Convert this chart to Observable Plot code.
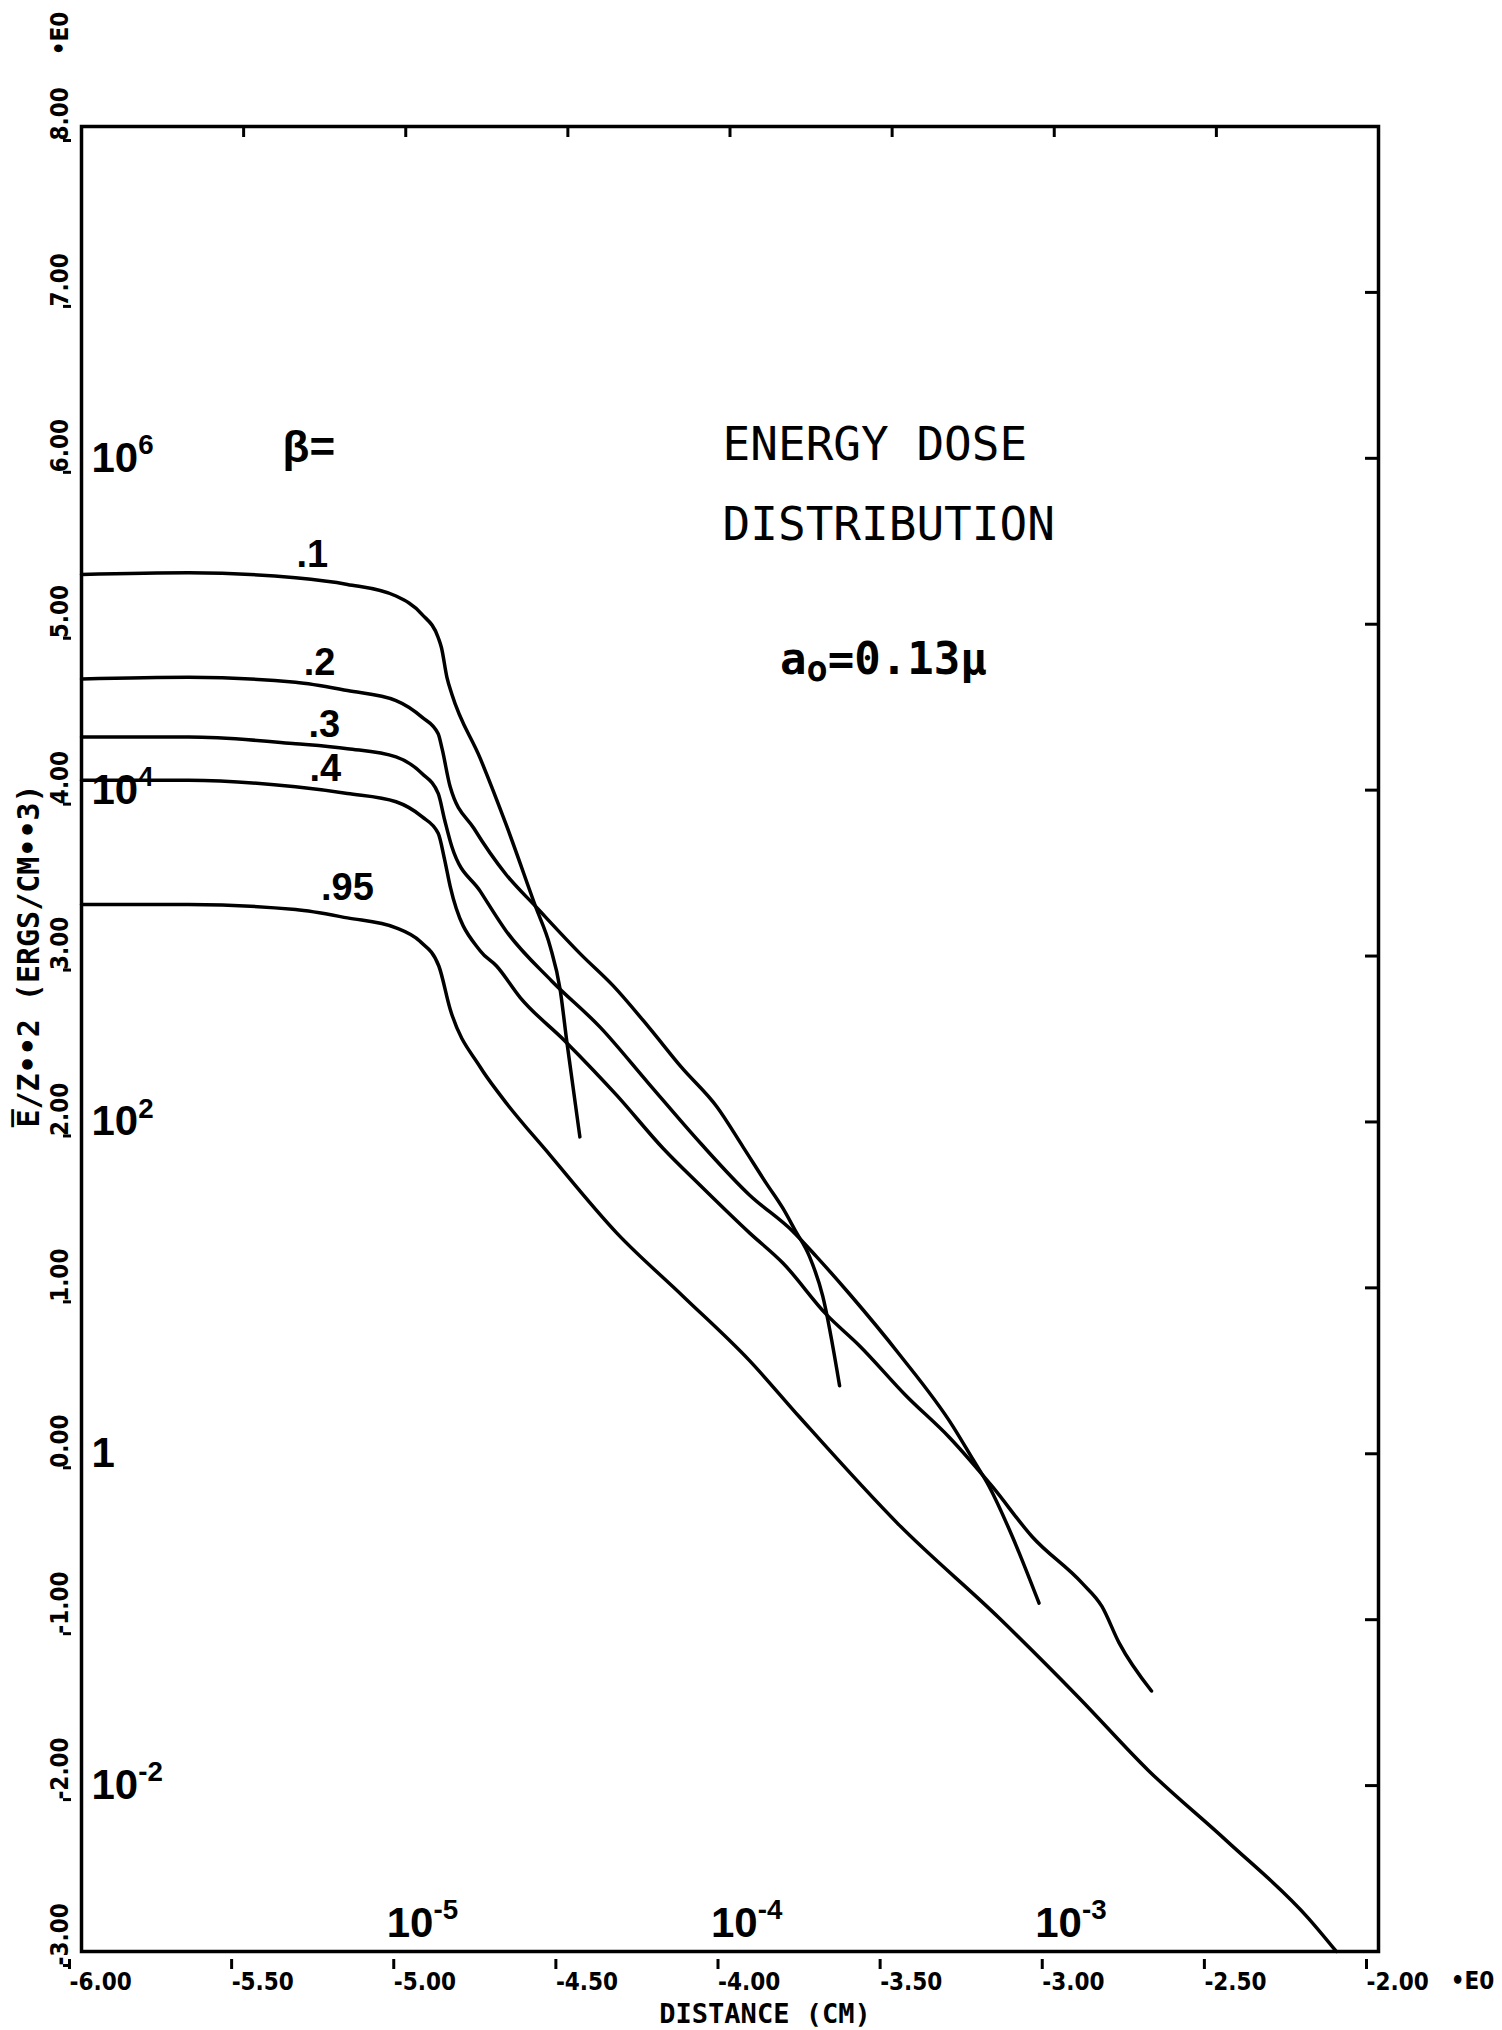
<!DOCTYPE html>
<html>
<head>
<meta charset="utf-8">
<script src="https://cdn.jsdelivr.net/npm/d3@7"></script>
<script src="https://cdn.jsdelivr.net/npm/@observablehq/plot@0.6"></script>
<style>
  html, body { margin: 0; padding: 0; background: #ffffff; }
  #chart svg { display: block; }
</style>
</head>
<body>
<div id="chart"></div>
<script>
// ---------------- data (log10 distance in cm, log10 of E/Z^2 in ergs/cm^3) ----------------
const betaLabels = [".1", ".2", ".3", ".4", ".95"];

const beta01X = [-6.00, -5.67, -5.34, -5.18, -5.03, -4.95, -4.90, -4.89, -4.873, -4.858, -4.77, -4.69, -4.60, -4.555, -4.524, -4.503, -4.463];
const beta01Y = [ 5.30,  5.31,  5.28,  5.24,  5.17,  5.06,  4.92,  4.86,  4.68,   4.58,   4.19,  3.79,  3.30,  3.06,   2.80,   2.48,   1.91];

const beta02X = [-6.00, -5.67, -5.34, -5.18, -5.03, -4.95, -4.90, -4.888, -4.863, -4.79, -4.69, -4.60, -4.46, -4.36, -4.25, -4.15, -4.04, -3.96, -3.888, -3.837, -3.80, -3.755, -3.714, -3.662];
const beta02Y = [ 4.67,  4.68,  4.65,  4.60,  4.54,  4.44,  4.34,  4.25,   4.02,   3.77,  3.49,  3.30,  3.01,  2.82,  2.57,  2.33,  2.09,  1.85,  1.63,   1.48,   1.35,  1.19,   0.95,   0.41];

const beta03X = [-6.00, -5.67, -5.34, -5.18, -5.03, -4.95, -4.90, -4.88, -4.858, -4.77, -4.69, -4.55, -4.40, -4.25, -4.09, -3.94, -3.806, -3.734, -3.63, -3.478, -3.314, -3.252, -3.20, -3.129, -3.047];
const beta03Y = [ 4.32,  4.32,  4.28,  4.25,  4.20,  4.10,  3.98,  3.82,  3.66,   3.39,  3.15,  2.85,  2.57,  2.23,  1.87,  1.56,  1.34,   1.19,   0.96,  0.60,   0.17,  -0.03,  -0.20, -0.50,  -0.90];

const beta04X = [-6.00, -5.67, -5.34, -5.18, -5.03, -4.95, -4.90, -4.88, -4.863, -4.77, -4.72, -4.647, -4.51, -4.349, -4.206, -4.093, -3.939, -3.837, -3.703, -3.60, -3.457, -3.324, -3.19, -3.068, -2.914, -2.853, -2.80, -2.70];
const beta04Y = [ 4.06,  4.06,  4.02,  3.98,  3.93,  3.84,  3.74,  3.58,  3.42,   3.03,  2.94,  2.75,   2.49,  2.16,   1.84,   1.62,   1.33,   1.15,   0.84,   0.65,  0.35,   0.10,  -0.20, -0.50,  -0.78,  -0.92,  -1.14, -1.43];

const beta95X = [-6.00, -5.67, -5.34, -5.18, -5.03, -4.957, -4.898, -4.863, -4.77, -4.708, -4.555, -4.349, -4.145, -3.939, -3.785, -3.478, -3.17, -2.924, -2.709, -2.47, -2.216, -2.13];
const beta95Y = [ 3.31,  3.31,  3.28,  3.23,  3.17,  3.09,   2.94,   2.68,   2.33,  2.16,   1.80,   1.33,   0.95,   0.56,   0.22,  -0.43,  -0.99, -1.47,  -1.91,  -2.33, -2.80,  -3.00];

// axis ticks
const xTicks = [-6.0, -5.5, -5.0, -4.5, -4.0, -3.5, -3.0, -2.5, -2.0];
const yTicks = [-3, -2, -1, 0, 1, 2, 3, 4, 5, 6, 7, 8];

// decade marks written inside the frame
const decadesY = [6, 4, 2, 0, -2];
const decadesX = [-5, -4, -3];

// annotations (text, x, y in data units)
const curveNotes = [
  {text: ".1",  x: -5.288, y: 5.420},
  {text: ".2",  x: -5.266, y: 4.769},
  {text: ".3",  x: -5.251, y: 4.395},
  {text: ".4",  x: -5.248, y: 4.128},
  {text: ".95", x: -5.180, y: 3.413}
];
const betaNote  = [{text: "β=", x: -5.380, y: 6.06}];
const titleNote = [
  {text: "ENERGY DOSE",  x: -4.023, y: 5.987},
  {text: "DISTRIBUTION", x: -4.023, y: 5.505}
];
const radiusNote = [{text: "a_o_=0.13μ", x: -3.527, y: 4.703}];

// ---------------- build ----------------
const seriesX = [beta01X, beta02X, beta03X, beta04X, beta95X];
const seriesY = [beta01Y, beta02Y, beta03Y, beta04Y, beta95Y];
const rows = betaLabels.flatMap((b, k) => seriesX[k].map((x, i) => ({beta: b, x, y: seriesY[k][i]})));

const COND = "'DejaVu Sans Condensed', 'DejaVu Sans', sans-serif";
const MONO = "'DejaVu Sans Mono', 'Liberation Mono', monospace";
const SANS = "'Liberation Sans', Arial, sans-serif";

const fmt2 = d => d.toFixed(2);

const chart = Plot.plot({
  width: 1502,
  height: 2030,
  marginLeft: 81,
  marginRight: 124,
  marginTop: 126,
  marginBottom: 79,
  x: {domain: [-6, -2]},
  y: {domain: [-3, 8]},
  style: {background: "#ffffff", color: "#000000", overflow: "visible"},
  marks: [
    Plot.frame({stroke: "#000", strokeWidth: 3.5}),
    // bottom axis: outward ticks with labels
    Plot.axisX({ticks: xTicks, anchor: "bottom", tickSize: 10, strokeWidth: 3, tickFormat: fmt2,
      textAnchor: "start", dx: -12, dy: 8, fontSize: 24, fontWeight: "bold", fontFamily: COND, label: null, ariaLabel: "xtick"}),
    // top axis: inward ticks only
    Plot.axisX({ticks: xTicks, anchor: "top", tickSize: 10, dy: 10, strokeWidth: 3, fill: "none", label: null}),
    // left axis: outward ticks, rotated labels
    Plot.axisY({ticks: yTicks, anchor: "left", tickSize: 8, strokeWidth: 3, tickRotate: -90, tickFormat: fmt2,
      textAnchor: "start", lineAnchor: "middle", dx: -10, dy: 14, fontSize: 24, fontWeight: "bold", fontFamily: COND, label: null, ariaLabel: "ytick"}),
    // right axis: inward ticks only
    Plot.axisY({ticks: yTicks, anchor: "right", tickSize: 14, dx: -14, strokeWidth: 3, fill: "none", label: null}),

    // curves
    Plot.line(rows, {x: "x", y: "y", z: "beta", curve: "monotone-x", stroke: "#000", strokeWidth: 3.5,
      strokeLinejoin: "round", strokeLinecap: "round"}),

    // exponent multipliers and axis titles
    Plot.text(["•E0"], {frameAnchor: "top-left", dx: -21, dy: -93, rotate: -90, textAnchor: "middle", lineAnchor: "middle",
      fontSize: 24, fontWeight: "bold", fontFamily: COND}),
    Plot.text(["•E0"], {frameAnchor: "bottom-right", dx: 94, dy: 30, textAnchor: "middle", lineAnchor: "middle",
      fontSize: 24, fontWeight: "bold", fontFamily: COND}),
    Plot.text(["DISTANCE (CM)"], {frameAnchor: "bottom", dx: 35, dy: 71, textAnchor: "middle", lineAnchor: "bottom",
      fontSize: 27, fontWeight: "bold", fontFamily: MONO, ariaLabel: "xtitle"}),
    Plot.text(["E\u0305/Z••2 (ERGS/CM••3)"], {frameAnchor: "left", dx: -52, dy: -83, rotate: -90, textAnchor: "middle", lineAnchor: "middle",
      fontSize: 30, fontWeight: "bold", fontFamily: MONO, ariaLabel: "ytitle"}),

    // decade labels
    Plot.text(decadesY, {y: d => d, frameAnchor: "left", dx: 10, text: d => d === 0 ? "1" : "10^" + d,
      textAnchor: "start", lineAnchor: "middle", fontSize: 42, fontWeight: "bold", fontFamily: SANS}),
    Plot.text(decadesX, {x: d => d, frameAnchor: "bottom", dx: -19, dy: -15, text: d => "10^" + d,
      textAnchor: "start", lineAnchor: "bottom", fontSize: 42, fontWeight: "bold", fontFamily: SANS}),

    // curve labels
    Plot.text(curveNotes, {x: "x", y: "y", text: "text", textAnchor: "middle", lineAnchor: "middle",
      fontSize: 38, fontWeight: "bold", fontFamily: SANS}),
    Plot.text(betaNote, {x: "x", y: "y", text: "text", textAnchor: "start", lineAnchor: "middle",
      fontSize: 44, fontWeight: "bold", fontFamily: SANS}),

    // title block
    Plot.text(titleNote, {x: "x", y: "y", text: "text", textAnchor: "start", lineAnchor: "bottom",
      fontSize: 46, fontFamily: MONO}),
    Plot.text(radiusNote, {x: "x", y: "y", text: "text", textAnchor: "middle", lineAnchor: "bottom",
      fontSize: 44, fontWeight: "bold", fontFamily: MONO, ariaLabel: "radius"})
  ]
});

document.getElementById("chart").appendChild(chart);

// ---------------- typographic touch-ups (superscripts, subscripts, spacing) ----------------
const root = d3.select(chart);
root.selectAll("text").each(function () {
  const s = this.textContent;
  const el = d3.select(this);
  const fs = parseFloat(getComputedStyle(this).fontSize) || 20;
  if (s.includes("^")) {
    const [b, e] = s.split("^");
    el.text(null);
    el.append("tspan").text(b);
    el.append("tspan").attr("dy", -0.42 * fs).attr("font-size", 0.66 * fs).text(e);
  } else if (s.includes("_")) {
    const [b, sub, rest] = s.split("_");
    el.text(null);
    el.append("tspan").text(b);
    el.append("tspan").attr("dy", 0.16 * fs).attr("font-size", 0.8 * fs).text(sub);
    el.append("tspan").attr("dy", -0.16 * fs).text(rest);
  }
});
root.selectAll('g[aria-label="ytitle"] text').attr("letter-spacing", 4);
root.selectAll('g[aria-label="xtitle"] text').attr("letter-spacing", 3.5);
root.selectAll('g[aria-label="radius"] text').attr("letter-spacing", 2);
root.selectAll('g[aria-label="xtick"] text, g[aria-label="ytick"] text').style("font-stretch", "condensed");
</script>
</body>
</html>
